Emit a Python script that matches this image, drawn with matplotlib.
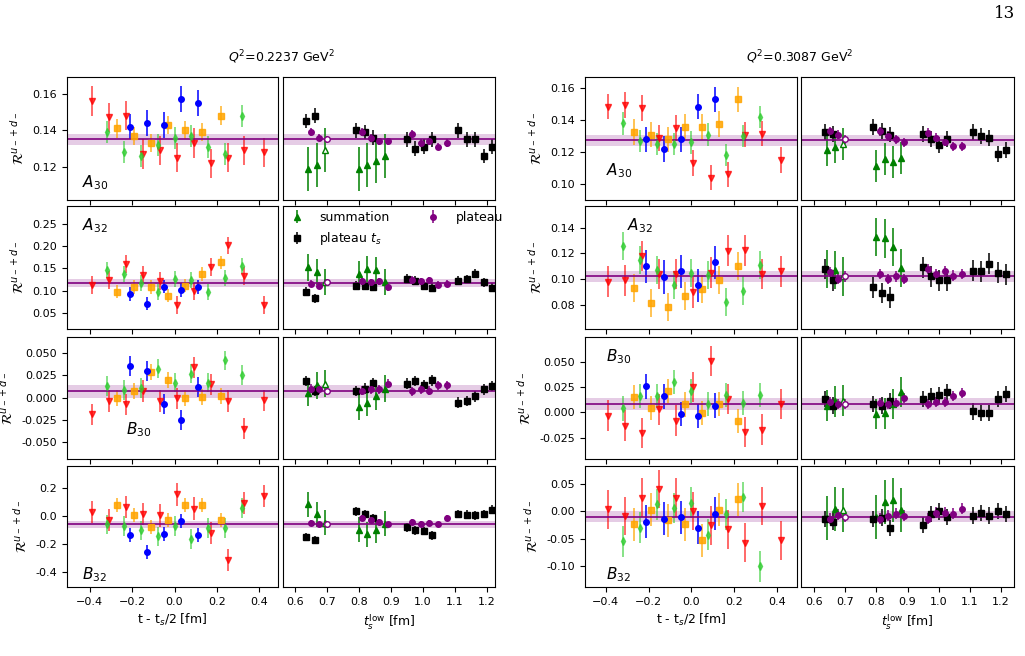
import matplotlib
matplotlib.use("Agg")
import matplotlib.pyplot as plt

# x positions (t - ts/2) for the four source-sink separations
x_red = [-0.39, -0.31, -0.23, -0.15, -0.07, 0.01, 0.09, 0.17, 0.25, 0.33, 0.42]
x_green = [-0.32, -0.24, -0.16, -0.08, 0.0, 0.08, 0.16, 0.24, 0.32]
x_orange = [-0.27, -0.19, -0.11, -0.03, 0.05, 0.13, 0.22]
x_blue = [-0.21, -0.13, -0.05, 0.03, 0.11]
# ts_low positions
x_sum = [0.64, 0.667, 0.693, 0.80, 0.826, 0.853, 0.88]
x_plt = [0.65, 0.675, 0.70, 0.81, 0.837, 0.863, 0.89, 0.966, 0.993, 1.02, 1.047, 1.074]
x_pts = [0.634, 0.661, 0.79, 0.817, 0.845, 0.95, 0.975, 1.002, 1.028, 1.11, 1.137, 1.163, 1.19, 1.217]
OPEN = 2

# ---- Q^2 = 0.2237 ----
L_A30_red = [0.156, 0.147, 0.148, 0.127, 0.129, 0.125, 0.133, 0.122, 0.125, 0.129, 0.128]
L_A30_green = [0.139, 0.128, 0.126, 0.132, 0.136, 0.137, 0.131, 0.127, 0.148]
L_A30_orange = [0.141, 0.137, 0.133, 0.143, 0.140, 0.139, 0.148]
L_A30_blue = [0.142, 0.144, 0.143, 0.157, 0.155]
L_A30_sum = [0.119, 0.121, 0.129, 0.119, 0.121, 0.123, 0.126]
L_A30_plt = [0.139, 0.136, 0.135, 0.139, 0.136, 0.134, 0.134, 0.138, 0.133, 0.134, 0.131, 0.133]
L_A30_pts = [0.145, 0.148, 0.140, 0.139, 0.136, 0.135, 0.130, 0.131, 0.135, 0.140, 0.135, 0.135, 0.126, 0.131]

L_A32_red = [0.113, 0.124, 0.160, 0.136, 0.121, 0.068, 0.098, 0.153, 0.202, 0.132, 0.068]
L_A32_green = [0.146, 0.138, 0.117, 0.096, 0.127, 0.123, 0.096, 0.128, 0.155]
L_A32_orange = [0.097, 0.108, 0.108, 0.088, 0.111, 0.137, 0.164]
L_A32_blue = [0.092, 0.070, 0.109, 0.101, 0.108]
L_A32_sum = [0.152, 0.142, 0.119, 0.137, 0.149, 0.146, 0.119]
L_A32_plt = [0.115, 0.111, 0.119, 0.121, 0.119, 0.121, 0.107, 0.124, 0.121, 0.123, 0.113, 0.115]
L_A32_pts = [0.097, 0.082, 0.111, 0.111, 0.108, 0.127, 0.122, 0.111, 0.106, 0.122, 0.126, 0.138, 0.119, 0.106]

L_B30_red = [-0.0187, -0.0037, -0.0075, 0.0075, -0.0037, -0.001, 0.034, 0.015, -0.0037, -0.035, -0.003]
L_B30_green = [0.013, 0.0082, 0.0108, 0.0325, 0.0168, 0.0269, 0.0168, 0.0418, 0.025]
L_B30_orange = [-0.001, 0.007, 0.0287, 0.020, -0.001, 0.0007, 0.0019]
L_B30_blue = [0.0354, 0.0295, -0.0075, -0.0254, 0.012]
L_B30_sum = [0.0052, 0.0138, 0.0157, -0.0104, -0.006, 0.0015, 0.010]
L_B30_plt = [0.010, 0.0093, 0.0075, 0.0075, 0.0093, 0.0093, 0.0157, 0.0071, 0.0093, 0.0075, 0.0138, 0.0138]
L_B30_pts = [0.0187, 0.0075, 0.0075, 0.010, 0.0164, 0.0157, 0.0187, 0.0138, 0.0194, -0.0056, -0.0037, 0.0015, 0.0093, 0.013]

L_B32_red = [0.031, -0.024, 0.067, 0.019, 0.007, 0.157, 0.055, -0.119, -0.314, 0.095, 0.145]
L_B32_green = [-0.057, -0.069, -0.10, -0.143, -0.069, -0.16, -0.083, -0.083, 0.06]
L_B32_orange = [0.079, 0.012, -0.079, -0.029, 0.079, 0.083, -0.029]
L_B32_blue = [-0.131, -0.255, -0.124, -0.033, -0.136]
L_B32_sum = [0.086, 0.014, -0.045, -0.095, -0.129, -0.10, -0.052]
L_B32_plt = [-0.048, -0.057, -0.052, -0.012, -0.029, -0.04, -0.057, -0.04, -0.052, -0.048, -0.057, -0.012]
L_B32_pts = [-0.148, -0.167, 0.036, 0.019, -0.012, -0.079, -0.10, -0.105, -0.136, 0.019, 0.012, 0.007, 0.019, 0.048]

# ---- Q^2 = 0.3087 ----
R_A30_red = [0.1485, 0.1496, 0.1475, 0.1288, 0.135, 0.113, 0.104, 0.106, 0.131, 0.1315, 0.115]
R_A30_green = [0.138, 0.127, 0.125, 0.125, 0.126, 0.131, 0.118, 0.130, 0.142]
R_A30_orange = [0.1325, 0.131, 0.128, 0.136, 0.1356, 0.1377, 0.153]
R_A30_blue = [0.128, 0.122, 0.128, 0.1485, 0.153]
R_A30_sum = [0.121, 0.123, 0.125, 0.111, 0.1155, 0.114, 0.116]
R_A30_plt = [0.133, 0.131, 0.128, 0.133, 0.130, 0.128, 0.126, 0.132, 0.129, 0.1265, 0.1235, 0.1235]
R_A30_pts = [0.1325, 0.1315, 0.1356, 0.133, 0.131, 0.1315, 0.128, 0.1245, 0.128, 0.1325, 0.130, 0.129, 0.119, 0.1215]

R_A32_red = [0.098, 0.099, 0.118, 0.104, 0.104, 0.0897, 0.105, 0.122, 0.1225, 0.104, 0.106]
R_A32_green = [0.126, 0.115, 0.107, 0.0956, 0.105, 0.103, 0.082, 0.091, 0.111]
R_A32_orange = [0.093, 0.081, 0.078, 0.0865, 0.0923, 0.099, 0.110]
R_A32_blue = [0.110, 0.1016, 0.106, 0.095, 0.113]
R_A32_sum = [0.108, 0.107, 0.102, 0.1327, 0.1317, 0.125, 0.1087]
R_A32_plt = [0.1055, 0.100, 0.102, 0.104, 0.100, 0.102, 0.100, 0.108, 0.104, 0.106, 0.1027, 0.104]
R_A32_pts = [0.108, 0.099, 0.0935, 0.089, 0.0857, 0.109, 0.102, 0.099, 0.099, 0.1066, 0.106, 0.112, 0.105, 0.1037]

R_B30_red = [-0.003, -0.013, -0.020, 0.003, -0.008, 0.025, 0.051, 0.0133, -0.0195, -0.017, 0.0084]
R_B30_green = [0.004, 0.016, 0.016, 0.030, 0.021, 0.0084, 0.0175, 0.0094, 0.0175]
R_B30_orange = [0.0156, 0.0045, 0.0215, 0.008, -0.0005, 0.0084, -0.0087]
R_B30_blue = [0.0258, 0.0158, -0.0012, -0.0037, 0.0068]
R_B30_sum = [0.0068, 0.011, 0.0117, -0.0015, -0.001, 0.0084, 0.0205]
R_B30_plt = [0.010, 0.0084, 0.0084, 0.009, 0.0084, 0.009, 0.014, 0.0084, 0.010, 0.010, 0.016, 0.019]
R_B30_pts = [0.0133, 0.0068, 0.0084, 0.0068, 0.011, 0.0133, 0.0166, 0.0175, 0.0205, 0.001, -0.0004, -0.0004, 0.0133, 0.018]

R_B32_red = [0.003, -0.009, 0.0245, 0.040, 0.0245, 0.0, -0.026, -0.033, -0.0575, 0.009, -0.053]
R_B32_green = [-0.055, -0.030, 0.012, 0.0055, 0.015, -0.043, -0.006, 0.0257, -0.100]
R_B32_orange = [-0.024, 0.0024, -0.017, -0.024, -0.053, 0.0024, 0.0215]
R_B32_blue = [-0.019, -0.014, -0.011, -0.030, -0.0049]
R_B32_sum = [-0.012, 0.003, 0.0012, -0.010, 0.0166, 0.0196, 0.0012]
R_B32_plt = [-0.014, -0.007, -0.010, -0.014, -0.008, -0.005, -0.008, -0.014, -0.003, -0.003, -0.005, 0.0045]
R_B32_pts = [-0.014, -0.019, -0.014, -0.012, -0.031, -0.025, -0.005, -0.0006, -0.011, -0.008, -0.0036, -0.008, 0.0, -0.005]

# error sizes: red, green, orange, blue, summation, plateau, plateau ts
ERR = {
    "L_A30": [0.008, 0.006, 0.005, 0.007, 0.012, 0.002, 0.004],
    "L_A32": [0.02, 0.018, 0.015, 0.015, 0.03, 0.008, 0.01],
    "L_B30": [0.012, 0.011, 0.009, 0.011, 0.015, 0.005, 0.006],
    "L_B32": [0.08, 0.07, 0.05, 0.05, 0.09, 0.02, 0.03],
    "R_A30": [0.008, 0.007, 0.008, 0.008, 0.01, 0.003, 0.005],
    "R_A32": [0.012, 0.011, 0.011, 0.013, 0.015, 0.004, 0.008],
    "R_B30": [0.015, 0.012, 0.012, 0.012, 0.015, 0.005, 0.008],
    "R_B32": [0.035, 0.028, 0.03, 0.03, 0.04, 0.01, 0.015],
}
# fit bands: centre, half width
BAND = {
    "L_A30": (0.135, 0.003), "L_A32": (0.117, 0.008), "L_B30": (0.007, 0.0075), "L_B32": (-0.055, 0.025),
    "R_A30": (0.1275, 0.0035), "R_A32": (0.102, 0.004), "R_B30": (0.008, 0.006), "R_B32": (-0.01, 0.01),
}
YLIM = {
    "L_A30": (0.102, 0.169), "L_A32": (0.013, 0.291), "L_B30": (-0.069, 0.068), "L_B32": (-0.505, 0.36),
    "R_A30": (0.090, 0.167), "R_A32": (0.061, 0.157), "R_B30": (-0.046, 0.0746), "R_B32": (-0.138, 0.082),
}
YTICKS = {
    "L_A30": [0.12, 0.14, 0.16], "L_A32": [0.05, 0.10, 0.15, 0.20, 0.25],
    "L_B30": [-0.05, -0.025, 0.0, 0.025, 0.05], "L_B32": [-0.4, -0.2, 0.0, 0.2],
    "R_A30": [0.10, 0.12, 0.14, 0.16], "R_A32": [0.08, 0.10, 0.12, 0.14],
    "R_B30": [-0.025, 0.0, 0.025, 0.05], "R_B32": [-0.10, -0.05, 0.0, 0.05],
}
YFMT = {"L_A30": "%.2f", "L_A32": "%.2f", "L_B30": "%.3f", "L_B32": "%.1f",
        "R_A30": "%.2f", "R_A32": "%.2f", "R_B30": "%.3f", "R_B32": "%.2f"}
LABELS = {"A30": "$A_{30}$", "A32": "$A_{32}$", "B30": "$B_{30}$", "B32": "$B_{32}$"}
LABEL_POS = {
    "L_A30": (0.07, 0.1), "L_A32": (0.07, 0.8), "L_B30": (0.28, 0.2), "L_B32": (0.07, 0.06),
    "R_A30": (0.1, 0.2), "R_A32": (0.2, 0.8), "R_B30": (0.1, 0.8), "R_B32": (0.1, 0.06),
}

fig = plt.figure(figsize=(10.25, 6.56), dpi=100)
W, H = 1025, 656
rows = [(77, 200), (206, 329), (337, 459), (466, 587)]
groups = {"L": ((67, 278), (283, 495), (-0.507, 0.488), (0.562, 1.225)),
          "R": ((585, 797), (801, 1014), (-0.497, 0.494), (0.557, 1.243))}
ekw = dict(capsize=0, elinewidth=1.1, markersize=4, linestyle="none")


def add_ax(xr, yr):
    return fig.add_axes([xr[0] / W, 1 - yr[1] / H, (xr[1] - xr[0]) / W, (yr[1] - yr[0]) / H])


for g, (lx, rx, lxlim, rxlim) in groups.items():
    for i, name in enumerate(["A30", "A32", "B30", "B32"]):
        key = f"{g}_{name}"
        d = {s: globals()[f"{key}_{s}"] for s in
             ["red", "green", "orange", "blue", "sum", "plt", "pts"]}
        e = ERR[key]
        c, hw = BAND[key]
        ax1 = add_ax(lx, rows[i])
        ax2 = add_ax(rx, rows[i])

        ax1.errorbar(x_red, d["red"], yerr=e[0], fmt="v", color="red", alpha=0.75, **ekw)
        ax1.errorbar(x_green, d["green"], yerr=e[1], fmt="d", color="limegreen", alpha=0.75, **ekw)
        ax1.errorbar(x_orange, d["orange"], yerr=e[2], fmt="s", color="orange", alpha=0.85, **ekw)
        ax1.errorbar(x_blue, d["blue"], yerr=e[3], fmt="o", color="blue", **ekw)

        s_in = [j for j in range(len(x_sum)) if j != OPEN]
        p_in = [j for j in range(len(x_plt)) if j != OPEN]
        h_sum = ax2.errorbar([x_sum[j] for j in s_in], [d["sum"][j] for j in s_in], yerr=e[4],
                             fmt="^", color="green", **ekw)
        ax2.errorbar([x_sum[OPEN]], [d["sum"][OPEN]], yerr=e[4], fmt="^", color="green",
                     markerfacecolor="white", **ekw)
        h_pts = ax2.errorbar(x_pts, d["pts"], yerr=e[6], fmt="s", color="black", **ekw)
        h_plt = ax2.errorbar([x_plt[j] for j in p_in], [d["plt"][j] for j in p_in], yerr=e[5],
                             fmt="o", color="purple", **ekw)
        ax2.errorbar([x_plt[OPEN]], [d["plt"][OPEN]], yerr=e[5], fmt="o", color="purple",
                     markerfacecolor="white", **ekw)

        for ax, xl in ((ax1, lxlim), (ax2, rxlim)):
            ax.axhspan(c - hw, c + hw, color="purple", alpha=0.2, lw=0)
            ax.axhline(c, color="purple", lw=1.2)
            ax.set_xlim(*xl)
            ax.set_ylim(*YLIM[key])
            ax.tick_params(labelsize=8)
        ax1.set_yticks(YTICKS[key])
        ax1.yaxis.set_major_formatter(matplotlib.ticker.FormatStrFormatter(YFMT[key]))
        ax1.set_ylabel(r"$\mathcal{R}^{u_-+d_-}$", fontsize=10)
        ax2.set_yticks(YTICKS[key])
        ax2.tick_params(labelleft=False, left=False)
        ax1.text(*LABEL_POS[key], LABELS[name], transform=ax1.transAxes, fontsize=11)

        ax1.set_xticks([-0.4, -0.2, 0.0, 0.2, 0.4])
        ax2.set_xticks([0.6, 0.7, 0.8, 0.9, 1.0, 1.1, 1.2])
        if i == 3:
            ax1.set_xlabel("t - t$_s$/2 [fm]", fontsize=9)
            ax2.set_xlabel(r"$t_s^{\rm low}$ [fm]", fontsize=9)
        else:
            ax1.tick_params(labelbottom=False)
            ax2.tick_params(labelbottom=False)
        if g == "L" and name == "A32":
            ax2.legend([h_sum, h_pts, h_plt], ["summation", r"plateau $t_s$", "plateau"],
                       ncol=2, frameon=False, fontsize=9, loc="upper left",
                       handletextpad=0.8, columnspacing=2.5,
                       bbox_to_anchor=(-0.03, 1.02), borderaxespad=0.2)

fig.text((67 + 495) / 2 / W, 1 - 62 / H, "$Q^2$=0.2237 GeV$^2$", ha="center", fontsize=9)
fig.text((585 + 1014) / 2 / W, 1 - 62 / H, "$Q^2$=0.3087 GeV$^2$", ha="center", fontsize=9)
fig.text(1005 / W, 1 - 18 / H, "13", ha="center", fontsize=12, family="DejaVu Serif")

fig.savefig("out.png", dpi=100)
